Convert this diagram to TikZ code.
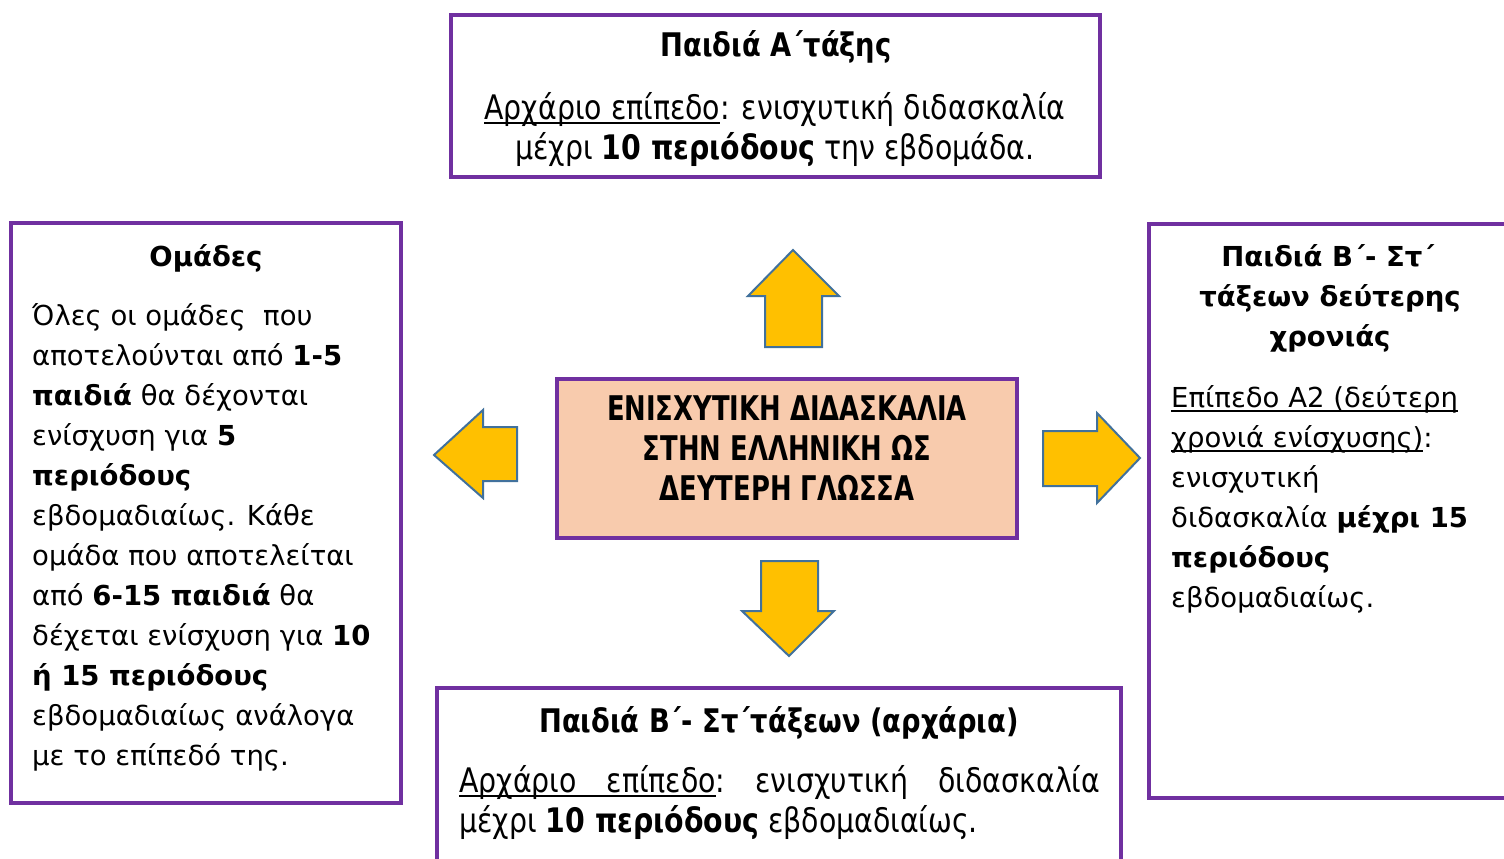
\documentclass[tikz,border=0pt]{standalone}
\usepackage{fontspec}
\setmainfont{DejaVu Sans}
\newfontfamily\tah{DejaVu Sans}
\newfontfamily\cond[FakeStretch=0.84]{DejaVu Sans}
\newfontfamily\condh[FakeStretch=0.76]{DejaVu Sans}
\definecolor{purp}{HTML}{7030A0}
\definecolor{peach}{HTML}{F8CBAD}
\definecolor{gold}{HTML}{FFC000}
\definecolor{ablue}{HTML}{41719C}
\newcommand\ulrule{\leaders\hrule height -2.5pt depth 4.5pt}
\newcommand\myul[1]{\hbox{\setbox0\hbox{#1}\rlap{\copy0}\ulrule\hskip\wd0\relax}}
\tikzset{
  box/.style={draw=purp, line width=4pt, fill=white, inner sep=0pt, outer sep=0pt, anchor=north west},
  centerbox/.style={box, fill=peach},
  blockarrow/.style={draw=ablue, fill=gold, line width=2pt, line join=miter},
  bodytxt/.style={inner sep=0pt, font=\tah\fontsize{27.5}{40}\selectfont},
  bodyhead/.style={inner sep=0pt, font=\tah\bfseries\fontsize{27.5}{40}\selectfont, anchor=base},
  condtxt/.style={inner sep=0pt, font=\cond\fontsize{33.8}{40}\selectfont},
  condhead/.style={inner sep=0pt, font=\cond\bfseries\fontsize{32.5}{40}\selectfont, anchor=base},
  headtxt/.style={inner sep=0pt, font=\condh\bfseries\fontsize{34}{40}\selectfont, anchor=base},
}
\begin{document}
\begin{tikzpicture}[x=1pt,y=-1pt]
\useasboundingbox (0,0) rectangle (1504,859);
\clip (0,0) rectangle (1504,859);
\fill[white] (0,0) rectangle (1504,859);

% boxes
\node[box, minimum width=649pt, minimum height=162pt] (top) at (451,15) {};
\node[box, minimum width=390pt, minimum height=580pt] (left) at (11,223) {};
\node[box, minimum width=370pt, minimum height=574pt] (right) at (1149,224) {};
\node[box, minimum width=684pt, minimum height=200pt] (bottom) at (437,688) {};
\node[centerbox, minimum width=460pt, minimum height=159pt] (center) at (557,379) {};

% block arrows
\draw[blockarrow] (793,250) -- (839,296) -- (822,296) -- (822,347) -- (765,347) -- (765,296) -- (748,296) -- cycle;
\draw[blockarrow] (434,455) -- (483,410) -- (483,427) -- (517,427) -- (517,481) -- (483,481) -- (483,498) -- cycle;
\draw[blockarrow] (1140,458) -- (1097,413) -- (1097,431) -- (1043,431) -- (1043,486) -- (1097,486) -- (1097,503) -- cycle;
\draw[blockarrow] (789,656) -- (834,611) -- (818,611) -- (818,561) -- (761,561) -- (761,611) -- (742,611) -- cycle;

% center text
\node[headtxt] (c1) at (787,420) {ΕΝΙΣΧΥΤΙΚΗ ΔΙΔΑΣΚΑΛΙΑ};
\node[headtxt] (c2) at (787,460) {ΣΤΗΝ ΕΛΛΗΝΙΚΗ ΩΣ};
\node[headtxt] (c3) at (787,500) {ΔΕΥΤΕΡΗ ΓΛΩΣΣΑ};

% top box text
\node[condhead] (t0) at (776,57) {Παιδιά Α΄τάξης};
\node[condtxt, anchor=base] (t1) at (775,119) {\myul{Αρχάριο επίπεδο}: ενισχυτική διδασκαλία};
\node[condtxt, anchor=base] (t2) at (775,159) {μέχρι \textbf{10 περιόδους} την εβδομάδα.};

% left box text
\node[bodyhead] (l0) at (206,266) {Ομάδες};
\node[bodytxt, anchor=base west] (l1) at (32,325) {Όλες οι ομάδες\ \ που};
\node[bodytxt, anchor=base west] (l2) at (32,365) {αποτελούνται από \textbf{1-5}};
\node[bodytxt, anchor=base west] (l3) at (32,405) {\textbf{παιδιά} θα δέχονται};
\node[bodytxt, anchor=base west] (l4) at (32,445) {ενίσχυση για \textbf{5}};
\node[bodytxt, anchor=base west] (l5) at (32,485) {\textbf{περιόδους}};
\node[bodytxt, anchor=base west] (l6) at (32,525) {εβδομαδιαίως. Κάθε};
\node[bodytxt, anchor=base west] (l7) at (32,565) {ομάδα που αποτελείται};
\node[bodytxt, anchor=base west] (l8) at (32,605) {από \textbf{6-15 παιδιά} θα};
\node[bodytxt, anchor=base west] (l9) at (32,645) {δέχεται ενίσχυση για \textbf{10}};
\node[bodytxt, anchor=base west] (l10) at (32,685) {\textbf{ή 15 περιόδους}};
\node[bodytxt, anchor=base west] (l11) at (32,725) {εβδομαδιαίως ανάλογα};
\node[bodytxt, anchor=base west] (l12) at (32,765) {με το επίπεδό της.};

% right box text
\node[bodyhead] (r0a) at (1328,266) {Παιδιά Β΄- Στ΄};
\node[bodyhead] (r0b) at (1330,306) {τάξεων δεύτερης};
\node[bodyhead] (r0c) at (1330,346) {χρονιάς};
\node[bodytxt, anchor=base west] (r1) at (1171,407) {\myul{Επίπεδο Α2 (δεύτερη}};
\node[bodytxt, anchor=base west] (r2) at (1171,447) {\myul{χρονιά ενίσχυσης)}:};
\node[bodytxt, anchor=base west] (r3) at (1171,487) {ενισχυτική};
\node[bodytxt, anchor=base west] (r4) at (1171,527) {διδασκαλία \textbf{μέχρι 15}};
\node[bodytxt, anchor=base west] (r5) at (1171,567) {\textbf{περιόδους}};
\node[bodytxt, anchor=base west] (r6) at (1171,607) {εβδομαδιαίως.};

% bottom box text
\node[condhead] (b0) at (779,732) {Παιδιά Β΄- Στ΄τάξεων (αρχάρια)};
\node[condtxt, anchor=base west] (b1) at (459,792) {\hbox to 641pt{\myul{Αρχάριο}\ulrule\hskip 0.32em plus 1fil\relax\myul{επίπεδο}:\hskip 0.32em plus 1fil\relax ενισχυτική\hskip 0.32em plus 1fil\relax διδασκαλία}};
\node[condtxt, anchor=base west] (b2) at (459,832) {μέχρι \textbf{10 περιόδους} εβδομαδιαίως.};
\end{tikzpicture}
\end{document}
